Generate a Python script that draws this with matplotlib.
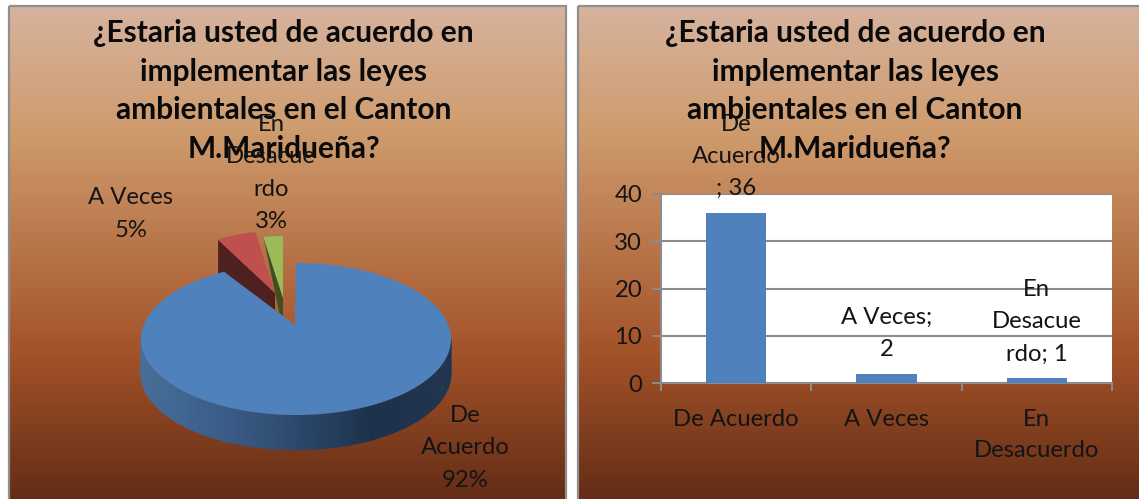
#!/usr/bin/env python3
import numpy as np
import matplotlib
matplotlib.use("Agg")
import matplotlib.pyplot as plt
from matplotlib.colors import LinearSegmentedColormap
from matplotlib.patches import Polygon, Rectangle

plt.rcParams["font.family"] = ["Lato", "DejaVu Sans"]

# ---------------- data ----------------
TITLE = "¿Estaria usted de acuerdo en\nimplementar las leyes\nambientales en el Canton\nM.Maridueña?"
categories = ["De Acuerdo", "A Veces", "En Desacuerdo"]
tick_labels = ["De Acuerdo", "A Veces", "En\nDesacuerdo"]
values = [36, 2, 1]
pie_labels = ["De\nAcuerdo\n92%", "A Veces\n5%", "En\nDesacue\nrdo\n3%"]
bar_labels = ["De\nAcuerdo\n; 36", "A Veces;\n2", "En\nDesacue\nrdo; 1"]
y_ticks = [0, 10, 20, 30, 40]
# --------------------------------------

W, H = 1139, 499
TXT = "#141414"
GRID = "#8c8c8c"
BG_STOPS = [(0.0, "#d6b39e"), (0.25, "#cf9c6e"), (0.70, "#a4532a"), (1.0, "#642d16")]
SLICE_TOP = ["#4f81bd", "#c0504d", "#9bbb59"]
SLICE_SIDE = ["#3f6a9b", "#4f2020", "#3f4f24"]
LABEL_SIZE = 17.2

bg_cmap = LinearSegmentedColormap.from_list("bg", BG_STOPS)
wall_cmap = LinearSegmentedColormap.from_list("wall", ["#44719f", "#3a5f8c", "#2c4a6e", "#1b314c", "#1c3552"])
grad = np.linspace(0, 1, 256).reshape(-1, 1)

fig = plt.figure(figsize=(W / 100, H / 100), dpi=100)
fig.patch.set_facecolor("white")

base = fig.add_axes([0, 0, 1, 1])
for x0, x1 in [(9, 566), (578, W + 5)]:
    base.imshow(grad, cmap=bg_cmap, extent=(x0, x1, H, 6), aspect="auto", zorder=0)
    base.add_patch(Rectangle((x0, 6), x1 - x0, H, fill=False, ec="#8f8f8f", lw=1.6, zorder=1))
base.set_xlim(0, W)
base.set_ylim(H, 0)
base.axis("off")

# pie geometry, angles come from the values (clockwise from 12 o'clock)
CX, CY = 296, 339
RX, RY = 155, 76
DEPTH = 35
fractions = np.array(values) / sum(values)
edges = np.concatenate([[0], np.cumsum(fractions)]) * 2 * np.pi


def rim(a, rx=RX, cx=CX, cy=CY):
    return np.column_stack([cx + rx * np.sin(a), cy - RY * np.cos(a)])


def small_slice(i, apex, corner_depth):
    # exploded slice, narrower than the main one
    a = np.linspace(edges[i], edges[i + 1], 30)
    arc = rim(a, RX * 0.79, apex[0], apex[1] + 14)
    apex_low = (apex[0], apex[1] + 32)
    side = [tuple(arc[0])]
    if corner_depth:
        side.append((arc[0][0], arc[0][1] + corner_depth))
    side += [apex_low, apex]
    base.add_patch(Polygon(side, fc=SLICE_SIDE[i], ec="none", zorder=2))
    base.add_patch(Polygon(np.vstack([arc, apex]), fc=SLICE_TOP[i], ec="none", zorder=3))


small_slice(1, (275, 293), DEPTH)
small_slice(2, (283, 298), 0)

# blue wall, only the front half shows
wall = np.linspace(np.pi / 2, 3 * np.pi / 2, 160)
for k in range(len(wall) - 1):
    up = rim(wall[k:k + 2] - 0.002)
    low = up[::-1] + [0, DEPTH]
    t = 1 - (up[0, 0] - (CX - RX)) / (2 * RX)
    base.add_patch(Polygon(np.vstack([up, low]), fc=wall_cmap(1 - t), ec=wall_cmap(1 - t), lw=0.3, zorder=4))

blue = rim(np.linspace(edges[0], edges[1], 300))
base.add_patch(Polygon(np.vstack([blue, (295, 325)]), fc=SLICE_TOP[0], ec="none", zorder=5))

# bar chart in its own axes
ax = fig.add_axes([661 / W, 1 - 383 / H, (1112 - 661) / W, (383 - 194) / H], zorder=2)
ax.set_facecolor("white")
x = np.arange(len(values))
ax.bar(x, values, width=0.4, color=SLICE_TOP[0], zorder=3)
ax.set_xlim(-0.5, 2.5)
ax.set_ylim(0, 40)
ax.set_yticks(y_ticks)
ax.set_yticklabels([str(v) for v in y_ticks], fontsize=LABEL_SIZE, color=TXT)
ax.set_xticks(x)
ax.set_xticklabels(tick_labels, fontsize=LABEL_SIZE, color=TXT, linespacing=1.62)
ax.set_xticks([-0.5, 0.5, 1.5, 2.5], minor=True)
ax.tick_params(axis="x", which="major", length=0, pad=18.5)
ax.tick_params(axis="x", which="minor", length=6, width=1.4, color=GRID)
ax.tick_params(axis="y", length=6.5, width=1.4, color=GRID, pad=7)
ax.grid(axis="y", color=GRID, lw=1.5, zorder=1)
ax.set_axisbelow(True)
for s in ["top", "right"]:
    ax.spines[s].set_visible(False)
for s in ["left", "bottom"]:
    ax.spines[s].set_color(GRID)
    ax.spines[s].set_linewidth(1.5)

# text overlay, title sits on top of the data labels
over = fig.add_axes([0, 0, 1, 1], zorder=3)
over.set_xlim(0, W)
over.set_ylim(H, 0)
over.axis("off")
for cx in [283.5, 855]:
    over.text(cx, 91, TITLE, ha="center", va="center", fontsize=21.5, fontweight="bold",
              color="#0a0a0a", linespacing=1.47)
for lab, (px, py) in zip(pie_labels, [(465, 448), (131, 214), (271, 173)]):
    over.text(px, py, lab, ha="center", va="center", fontsize=LABEL_SIZE, color=TXT, linespacing=1.66)
for xi, v, lab in zip(x, values, bar_labels):
    ax.annotate(lab, (xi, v), xytext=(0, 10), textcoords="offset points", ha="center", va="bottom",
                fontsize=LABEL_SIZE, color=TXT, linespacing=1.66, annotation_clip=False, zorder=6)

fig.savefig("out.png", dpi=100)
plt.close(fig)
